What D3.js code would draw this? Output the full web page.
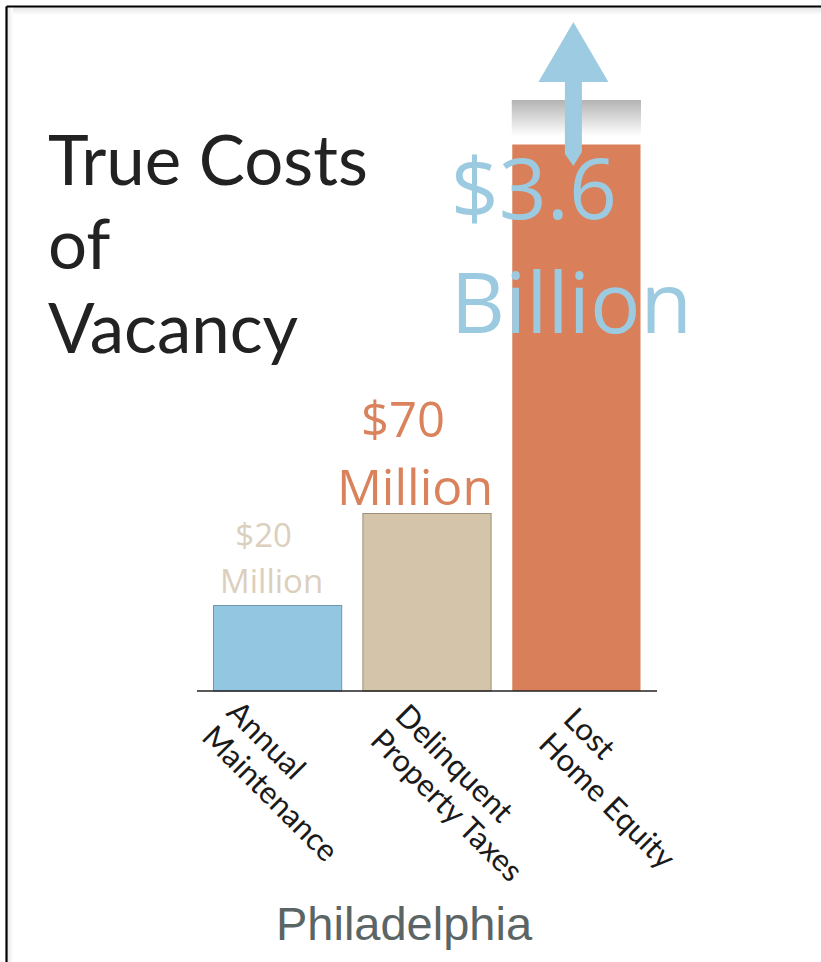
<!DOCTYPE html>
<html>
  <head>
    <meta charset="utf-8">
    <title>True Costs of Vacancy</title>
    <script src="https://d3js.org/d3.v7.min.js"></script>
    <style>
      body { margin: 0; background: #fff; }
    </style>
  </head>
  <body>
    <script>
      var width = 821;
      var height = 962;

      // data
      var categories = ["Annual Maintenance", "Delinquent Property Taxes", "Lost Home Equity"];
      var labelLines = [["Annual", "Maintenance"], ["Delinquent", "Property Taxes"], ["Lost", "Home Equity"]];
      var values = [20, 70, 3600];            // millions of dollars
      var valueLabels = [["$20", "Million"], ["$70", "Million"], ["$3.6", "Billion"]];
      var titleLines = ["True Costs", "of", "Vacancy"];
      var city = "Philadelphia";

      var barColors = ["#93c6e0", "#d3c4aa", "#d97f59"];
      var barStrokes = ["#6f97aa", "#9c907c", "none"];
      var labelColors = ["#dbcfbd", "#d9825c", "#9ccbe1"];
      var arrowColor = "#9ccbe2";

      var baseline = 691;

      var x = d3.scaleBand()
          .domain(categories)
          .range([213, 641])
          .paddingInner(0.135);

      // infographic scale, not proportional: piecewise linear
      var y = d3.scaleLinear()
          .domain([0, 20, 70, 3600])
          .range([baseline, 605, 513, 144]);

      var svg = d3.select("body")
        .append("svg")
          .attr("width", width)
          .attr("height", height);

      var defs = svg.append("defs");
      var g1 = defs.append("linearGradient").attr("id", "topfade")
          .attr("x1", 0).attr("y1", 0).attr("x2", 0).attr("y2", 1);
      g1.append("stop").attr("offset", "0%").attr("stop-color", "#b3b3b3");
      g1.append("stop").attr("offset", "100%").attr("stop-color", "#ffffff");

      var sh1 = defs.append("linearGradient").attr("id", "shadowTop")
          .attr("x1", 0).attr("y1", 0).attr("x2", 0).attr("y2", 1);
      sh1.append("stop").attr("offset", "0%").attr("stop-color", "#e4e4e4");
      sh1.append("stop").attr("offset", "100%").attr("stop-color", "#ffffff");
      var sh2 = defs.append("linearGradient").attr("id", "shadowLeft")
          .attr("x1", 0).attr("y1", 0).attr("x2", 1).attr("y2", 0);
      sh2.append("stop").attr("offset", "0%").attr("stop-color", "#e4e4e4");
      sh2.append("stop").attr("offset", "100%").attr("stop-color", "#ffffff");

      // frame
      svg.append("rect").attr("x", 7).attr("y", 7).attr("width", width - 7).attr("height", 8)
          .attr("fill", "url(#shadowTop)");
      svg.append("rect").attr("x", 7).attr("y", 7).attr("width", 6).attr("height", height - 7)
          .attr("fill", "url(#shadowLeft)");
      svg.append("line").attr("x1", 6.5).attr("y1", 6.5).attr("x2", width).attr("y2", 6.5)
          .attr("stroke", "#000").attr("stroke-width", 2.2);
      svg.append("line").attr("x1", 6.5).attr("y1", 6.5).attr("x2", 6.5).attr("y2", height)
          .attr("stroke", "#000").attr("stroke-width", 2.2);

      // title
      svg.append("g")
        .selectAll("text")
        .data(titleLines)
        .enter()
        .append("text")
          .attr("x", 48)
          .attr("y", function(d, i) { return 185 + i * 84; })
          .attr("font-family", "Lato, 'Open Sans', sans-serif")
          .attr("font-size", 69)
          .attr("fill", "#222")
          .text(function(d) { return d; });

      // fade above the broken bar
      var last = categories[categories.length - 1];
      svg.append("rect")
          .attr("x", x(last))
          .attr("y", 100)
          .attr("width", x.bandwidth())
          .attr("height", 36)
          .attr("fill", "url(#topfade)");

      // bars
      svg.append("g")
        .selectAll("rect")
        .data(values)
        .enter()
        .append("rect")
          .attr("x", function(d, i) { return x(categories[i]) + 0.5; })
          .attr("y", function(d) { return y(d) + 0.5; })
          .attr("width", x.bandwidth() - 1)
          .attr("height", function(d) { return baseline - y(d) - 0.5; })
          .attr("fill", function(d, i) { return barColors[i]; })
          .attr("stroke", function(d, i) { return barStrokes[i]; })
          .attr("stroke-width", 1);

      // axis line
      svg.append("line")
          .attr("x1", 197).attr("x2", 657)
          .attr("y1", baseline).attr("y2", baseline)
          .attr("stroke", "#222").attr("stroke-width", 1.6);

      // value labels
      var valueFont = "'Open Sans', Lato, sans-serif";
      var small = svg.append("g").attr("font-family", valueFont).attr("text-anchor", "middle");
      // $20 Million
      small.append("text")
          .attr("x", x(categories[0]) + x.bandwidth() / 2 - 14)
          .attr("y", y(values[0]) - 58)
          .attr("font-size", 33)
          .attr("fill", labelColors[0])
          .text(valueLabels[0][0]);
      small.append("text")
          .attr("x", x(categories[0]) + x.bandwidth() / 2 - 6)
          .attr("y", y(values[0]) - 12)
          .attr("font-size", 33)
          .attr("fill", labelColors[0])
          .text(valueLabels[0][1]);
      // $70 Million
      small.append("text")
          .attr("x", x(categories[1]) + x.bandwidth() / 2 - 24)
          .attr("y", y(values[1]) - 76)
          .attr("font-size", 49)
          .attr("fill", labelColors[1])
          .text(valueLabels[1][0]);
      small.append("text")
          .attr("x", x(categories[1]) + x.bandwidth() / 2 - 12)
          .attr("y", y(values[1]) - 8)
          .attr("font-size", 50)
          .attr("fill", labelColors[1])
          .text(valueLabels[1][1]);

      // $3.6 Billion
      var big = svg.append("g").attr("font-family", valueFont).attr("fill", labelColors[2]);
      var billion = big.append("text")
          .attr("x", x(last) + x.bandwidth() / 2 - 5)
          .attr("y", 333)
          .attr("text-anchor", "middle")
          .attr("font-size", 84)
          .text(valueLabels[2][1]);
      var bb = billion.node().getBBox();
      big.append("text")
          .attr("x", bb.x)
          .attr("y", 219)
          .attr("font-size", 84)
          .text(valueLabels[2][0]);

      // arrow
      var cx = x(last) + x.bandwidth() / 2 - 3;
      svg.append("path")
          .attr("d", d3.line()([
            [cx, 22], [cx + 35, 82], [cx + 8.5, 82], [cx + 8.5, 152], [cx, 166],
            [cx - 8.5, 154], [cx - 8.5, 82], [cx - 35, 82]
          ]) + "Z")
          .attr("fill", arrowColor);

      // category labels, rotated
      var cat = svg.append("g")
          .attr("font-family", "Lato, 'Open Sans', sans-serif")
          .attr("font-size", 31)
          .attr("fill", "#1a1a1a");
      cat.selectAll("text")
        .data(labelLines)
        .enter()
        .append("text")
          .attr("transform", function(d, i) {
            var lx = x(categories[i]) + 12 + i * 19;
            var ly = baseline + 23 + i * 3.5;
            return "translate(" + lx + "," + ly + ") rotate(45)";
          })
        .selectAll("tspan")
        .data(function(d) { return d; })
        .enter()
        .append("tspan")
          .attr("x", 0)
          .attr("y", function(d, j) { return j * 35; })
          .text(function(d) { return d; });

      // city
      svg.append("text")
          .attr("x", 404)
          .attr("y", 940)
          .attr("text-anchor", "middle")
          .attr("font-family", "'Liberation Sans', Arial, sans-serif")
          .attr("font-size", 47)
          .attr("fill", "#5b6565")
          .text(city);
    </script>
  </body>
</html>
